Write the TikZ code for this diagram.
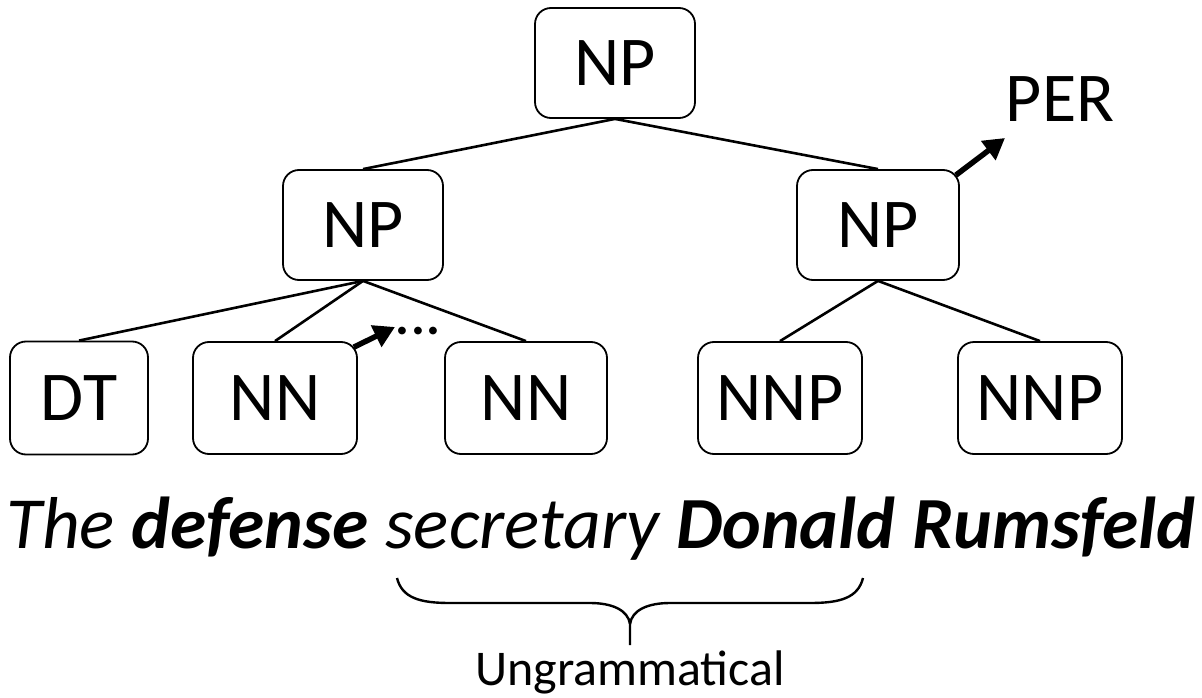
\documentclass[tikz,border=0pt]{standalone}
\usepackage{fontspec}
\setmainfont{Carlito}
\usetikzlibrary{arrows.meta}
\begin{document}
\begin{tikzpicture}[x=1pt,y=-1pt,
  tag/.style={draw,line width=1.8pt,rounded corners=16pt,inner sep=0pt,
    font=\fontsize{70}{84}\selectfont},
  edge/.style={line width=2.6pt},
  pointer/.style={line width=5.5pt,-{Triangle[length=21pt,width=23pt]}}]
\useasboundingbox (0,0) rectangle (1202,698);
% constituents
\node[tag,minimum width=160pt,minimum height=110pt] (np) at (615,63) {NP};
\node[tag,minimum width=160pt,minimum height=110pt] (npl) at (363,225) {NP};
\node[tag,minimum width=162pt,minimum height=110pt] (npr) at (878,225) {NP};
\node[tag,minimum width=138pt,minimum height=113pt] (dt) at (79,398) {DT};
\node[tag,minimum width=164pt,minimum height=112pt] (nn1) at (275,398) {NN};
\node[tag,minimum width=162pt,minimum height=112pt] (nn2) at (526,398) {NN};
\node[tag,minimum width=164pt,minimum height=112pt] (nnp1) at (780,398) {NNP};
\node[tag,minimum width=164pt,minimum height=112pt] (nnp2) at (1040,398) {NNP};
% labels
\node[font=\fontsize{70}{84}\selectfont,inner sep=0pt] (per) at (1060,99) {PER};
\node[font=\fontsize{52}{64}\selectfont\bfseries,inner sep=0pt,anchor=base] (dots) at (418,334) {.\kern2pt.\kern2pt.};
\coordinate (pertip) at (1005,138);
\coordinate (dotstip) at (395,327);
% tree edges
\draw[edge] (np.south) -- (npl.north);
\draw[edge] (np.south) -- (npr.north);
\draw[edge] (npl.south) -- (dt.north);
\draw[edge] (npl.south) -- (nn1.north);
\draw[edge] (npl.south) -- (nn2.north);
\draw[edge] (npr.south) -- (nnp1.north);
\draw[edge] (npr.south) -- (nnp2.north);
% pointers
\draw[pointer] (npr.north east) ++(-4,6) coordinate (a1) (a1) -- (pertip);
\draw[pointer] (nn1.north east) ++(-4,6) coordinate (a2) (a2) -- (dotstip);
% sentence
\node[anchor=base,inner sep=0pt,font=\fontsize{73.5}{88}\selectfont\itshape] (sent) at (601,548)
  {The \textbf{defense} secretary \textbf{Donald Rumsfeld}};
% brace
\coordinate (bl) at (397,578);
\coordinate (br) at (863,578);
\coordinate (bm) at (630,645);
\draw[line width=2.4pt]
  (bl) .. controls (402,598) and (420,603) .. (450,603)
  -- (590,603) .. controls (612,603) and (628,610) .. (630,624) -- (bm);
\draw[line width=2.4pt]
  (br) .. controls (858,598) and (840,603) .. (810,603)
  -- (670,603) .. controls (648,603) and (632,610) .. (630,624);
\node[anchor=base,inner sep=0pt,font=\fontsize{50}{60}\selectfont] (ungr) at (630,685) {Ungrammatical};
\end{tikzpicture}
\end{document}
